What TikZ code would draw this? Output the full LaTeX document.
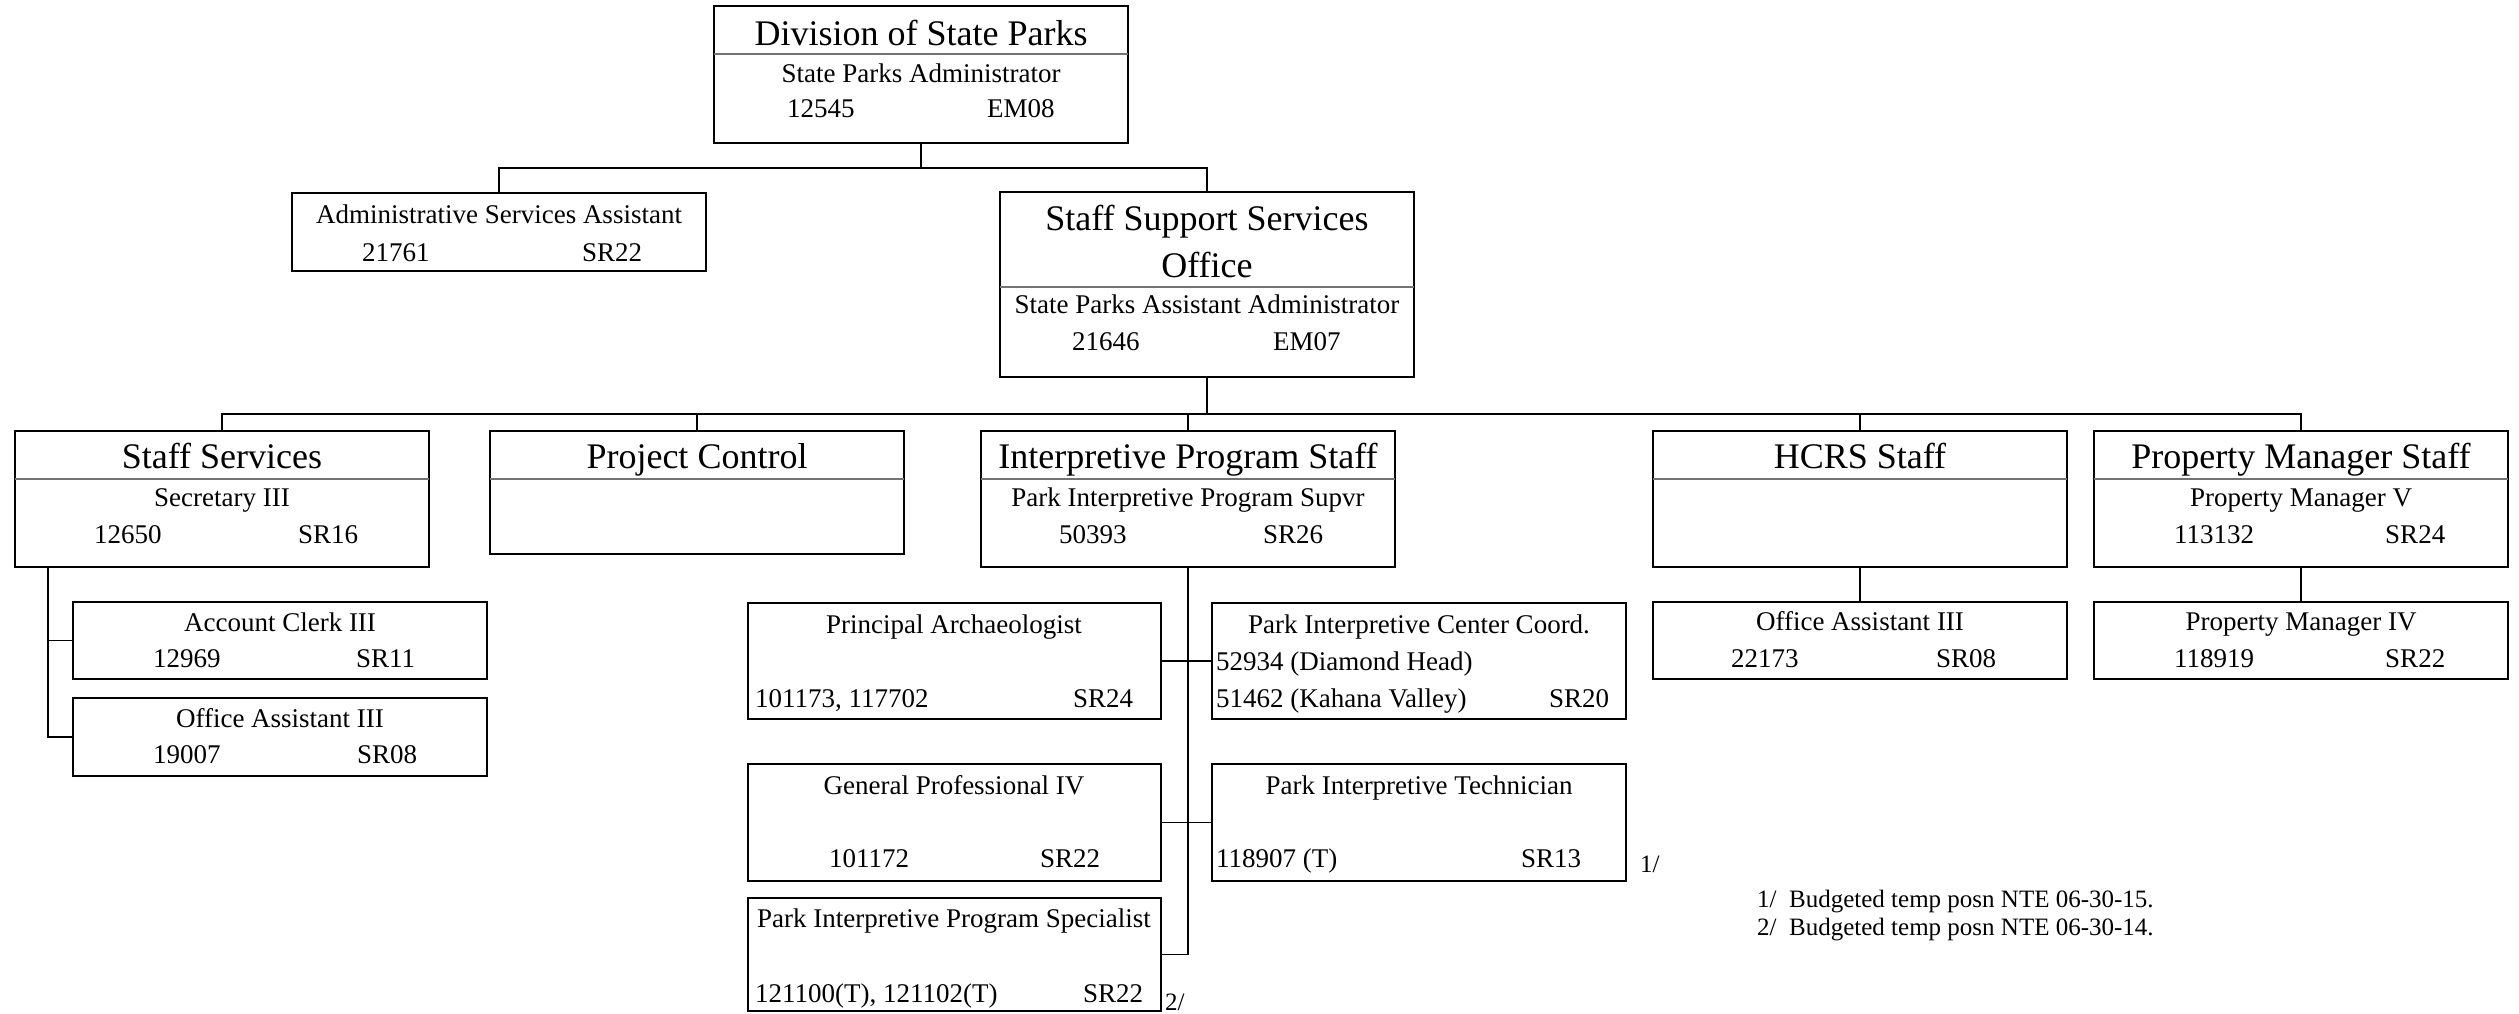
\documentclass[tikz,border=0pt]{standalone}
\usepackage{fontspec}
\setmainfont{Liberation Serif}
\begin{document}
\begin{tikzpicture}[x=1pt,y=-1pt,
  box/.style={draw, line width=2pt, rectangle, inner sep=0pt, outer sep=0pt, anchor=north west, minimum width=414pt},
  divider/.style={draw=black!55, line width=1.2pt},
  conn/.style={draw, line width=1.8pt},
  ttl/.style={inner sep=0pt, anchor=base, font=\fontsize{36}{47}\selectfont},
  sub/.style={inner sep=0pt, anchor=base, font=\fontsize{27}{32}\selectfont},
  num/.style={inner sep=0pt, anchor=base west, font=\fontsize{27}{32}\selectfont},
  fn/.style={inner sep=0pt, anchor=base west, font=\fontsize{25}{30}\selectfont}]
\useasboundingbox[fill=white] (0,0) rectangle (2519,1013);

% ---------- boxes ----------
\node[box, minimum height=137pt] (top) at (714,6) {};
\node[box, minimum height=78pt] (admin) at (292,193) {};
\node[box, minimum height=185pt] (sso) at (1000,192) {};
\node[box, minimum height=136pt] (ss) at (15,431) {};
\node[box, minimum height=123pt] (pc) at (490,431) {};
\node[box, minimum height=136pt] (ips) at (981,431) {};
\node[box, minimum height=136pt] (hcrs) at (1653,431) {};
\node[box, minimum height=136pt] (pms) at (2094,431) {};
\node[box, minimum height=77pt] (acct) at (73,602) {};
\node[box, minimum height=78pt] (oa1) at (73,698) {};
\node[box, minimum height=77pt] (oa2) at (1653,602) {};
\node[box, minimum height=77pt] (pm4) at (2094,602) {};
\node[box, minimum height=116pt, minimum width=413pt] (pa) at (748,603) {};
\node[box, minimum height=116pt] (picc) at (1212,603) {};
\node[box, minimum height=117pt, minimum width=413pt] (gp) at (748,764) {};
\node[box, minimum height=117pt] (pit) at (1212,764) {};
\node[box, minimum height=113pt, minimum width=413pt] (pisp) at (748,898) {};

% ---------- dividers ----------
\draw[divider] (top.west |- 0,54) -- (top.east |- 0,54);
\draw[divider] (sso.west |- 0,287) -- (sso.east |- 0,287);
\draw[divider] (ss.west |- 0,479) -- (ss.east |- 0,479);
\draw[divider] (pc.west |- 0,479) -- (pc.east |- 0,479);
\draw[divider] (ips.west |- 0,479) -- (ips.east |- 0,479);
\draw[divider] (hcrs.west |- 0,479) -- (hcrs.east |- 0,479);
\draw[divider] (pms.west |- 0,479) -- (pms.east |- 0,479);

% ---------- connectors ----------
\coordinate (j1) at (921,168);
\coordinate (j2) at (1207,414);
\coordinate (sst) at (48,567);
\draw[conn] (top.south) -- (j1);
\draw[conn] (admin.north) |- (j1) -| (sso.north);
\draw[conn] (sso.south) -- (j2);
\draw[conn] (ss.north) |- (j2) -| (pms.north);
\draw[conn] (pc.north) -- (pc.north |- j2);
\draw[conn] (ips.north) -- (ips.north |- j2);
\draw[conn] (hcrs.north) -- (hcrs.north |- j2);
\draw[conn] (sst) |- (oa1.west);
\draw[conn] (acct.west) -- (acct.west -| sst);
\draw[conn] (ips.south) |- (pisp.east);
\draw[conn] (pa.east) -- (picc.west);
\draw[conn] (gp.east) -- (pit.west);
\draw[conn] (hcrs.south) -- (oa2.north);
\draw[conn] (pms.south) -- (pm4.north);

% ---------- texts ----------
\node[ttl] (t-top) at (921,45) {Division of State Parks};
\node[sub] (s-top) at (921,82) {State Parks Administrator};
\node[num] (n-top) at (787,117) {12545};
\node[num] (g-top) at (987,117) {EM08};

\node[sub] (s-admin) at (499,223) {Administrative Services Assistant};
\node[num] (n-admin) at (362,261) {21761};
\node[num] (g-admin) at (582,261) {SR22};

\node[ttl] (t-sso1) at (1207,230) {Staff Support Services};
\node[ttl] (t-sso2) at (1207,277) {Office};
\node[sub] (s-sso) at (1207,313) {State Parks Assistant Administrator};
\node[num] (n-sso) at (1072,350) {21646};
\node[num] (g-sso) at (1273,350) {EM07};

\node[ttl] (t-ss) at (222,468) {Staff Services};
\node[sub] (s-ss) at (222,506) {Secretary III};
\node[num] (n-ss) at (94,543) {12650};
\node[num] (g-ss) at (298,543) {SR16};

\node[ttl] (t-pc) at (697,468) {Project Control};

\node[ttl] (t-ips) at (1188,468) {Interpretive Program Staff};
\node[sub] (s-ips) at (1188,506) {Park Interpretive Program Supvr};
\node[num] (n-ips) at (1059,543) {50393};
\node[num] (g-ips) at (1263,543) {SR26};

\node[ttl] (t-hcrs) at (1860,468) {HCRS Staff};

\node[ttl] (t-pms) at (2301,468) {Property Manager Staff};
\node[sub] (s-pms) at (2301,506) {Property Manager V};
\node[num] (n-pms) at (2174,543) {113132};
\node[num] (g-pms) at (2385,543) {SR24};

\node[sub] (s-acct) at (280,631) {Account Clerk III};
\node[num] (n-acct) at (153,667) {12969};
\node[num] (g-acct) at (356,667) {SR11};

\node[sub] (s-oa1) at (280,727) {Office Assistant III};
\node[num] (n-oa1) at (153,763) {19007};
\node[num] (g-oa1) at (357,763) {SR08};

\node[sub] (s-oa2) at (1860,630) {Office Assistant III};
\node[num] (n-oa2) at (1731,667) {22173};
\node[num] (g-oa2) at (1936,667) {SR08};

\node[sub] (s-pm4) at (2301,630) {Property Manager IV};
\node[num] (n-pm4) at (2174,667) {118919};
\node[num] (g-pm4) at (2385,667) {SR22};

\node[sub] (s-pa) at (954,633) {Principal Archaeologist};
\node[num] (n-pa) at (755,707) {101173, 117702};
\node[num] (g-pa) at (1073,707) {SR24};

\node[sub] (s-picc) at (1419,633) {Park Interpretive Center Coord.};
\node[num] (n-picc1) at (1216,670) {52934 (Diamond Head)};
\node[num] (n-picc2) at (1216,707) {51462 (Kahana Valley)};
\node[num] (g-picc) at (1549,707) {SR20};

\node[sub] (s-gp) at (954,794) {General Professional IV};
\node[num] (n-gp) at (829,867) {101172};
\node[num] (g-gp) at (1040,867) {SR22};

\node[sub] (s-pit) at (1419,794) {Park Interpretive Technician};
\node[num] (n-pit) at (1216,867) {118907 (T)};
\node[num] (g-pit) at (1521,867) {SR13};
\node[fn] (f1mark) at (1640,872) {1/};

\node[sub] (s-pisp) at (954,927) {Park Interpretive Program Specialist};
\node[num] (n-pisp) at (755,1002) {121100(T), 121102(T)};
\node[num] (g-pisp) at (1083,1002) {SR22};
\node[fn] (f2mark) at (1165,1010) {2/};

\node[fn] (note1) at (1757,907) {1/\ \ Budgeted temp posn NTE 06-30-15.};
\node[fn] (note2) at (1757,935) {2/\ \ Budgeted temp posn NTE 06-30-14.};
\end{tikzpicture}
\end{document}
